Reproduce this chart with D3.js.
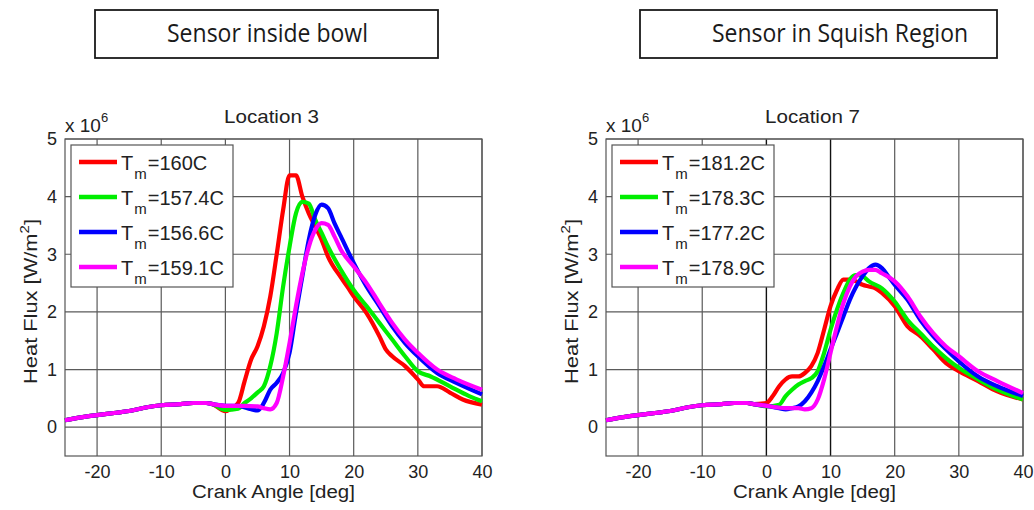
<!DOCTYPE html>
<html><head><meta charset="utf-8">
<script src="https://cdn.jsdelivr.net/npm/d3@7"></script>
<style>body{margin:0;background:#fff}svg{display:block}text{font-family:"Liberation Sans",Arial,sans-serif;fill:#222}</style>
</head><body><svg id="c" width="1034" height="510"></svg>
<script>
// ---------- data ----------
const headers = ["Sensor inside bowl", "Sensor in Squish Region"];
const panelTitles = ["Location 3", "Location 7"];
const xTicks = [-20, -10, 0, 10, 20, 30, 40];
const yTicks = [0, 1, 2, 3, 4, 5];
const seriesColors = ["#ff0000", "#00ee00", "#0000ff", "#ff00ff"];
// shared motoring-phase baseline (crank angle, heat flux x1e6)
const baseX = [-25, -22, -20, -17, -15, -12, -10, -7, -5, -3, -2];
const baseY = [0.12, 0.18, 0.21, 0.25, 0.28, 0.35, 0.38, 0.40, 0.42, 0.42, 0.40];
// Location 3
const loc3Labels = ["160C", "157.4C", "156.6C", "159.1C"];
const loc3RedX = [0, 1, 2, 3, 4, 5, 6, 7, 8, 9, 10, 11, 12, 13, 14, 15, 16, 18, 19, 20, 22, 24, 25, 26, 28, 30, 31, 33, 35, 37, 40];
const loc3RedY = [0.28, 0.33, 0.42, 0.8, 1.17, 1.4, 1.75, 2.27, 3.0, 3.77, 4.37, 4.37, 4.0, 3.71, 3.48, 3.25, 2.96, 2.6, 2.44, 2.27, 1.98, 1.58, 1.35, 1.23, 1.06, 0.83, 0.71, 0.71, 0.6, 0.48, 0.39];
const loc3GreenX = [0, 2, 3, 4, 5, 6, 7, 8, 9, 10, 11, 12, 13, 14, 15, 16, 18, 20, 22, 24, 26, 28, 30, 32, 35, 38, 40];
const loc3GreenY = [0.3, 0.32, 0.42, 0.5, 0.6, 0.71, 1.06, 1.63, 2.44, 3.13, 3.71, 3.91, 3.88, 3.6, 3.37, 3.13, 2.73, 2.38, 2.1, 1.81, 1.52, 1.23, 0.97, 0.88, 0.71, 0.54, 0.45];
const loc3BlueX = [0, 2, 4, 5, 6, 7, 8, 9, 10, 11, 12, 13, 14, 15, 16, 17, 18, 20, 22, 24, 26, 28, 30, 33, 36, 40];
const loc3BlueY = [0.37, 0.37, 0.31, 0.29, 0.42, 0.65, 0.77, 0.94, 1.29, 1.98, 2.62, 3.25, 3.68, 3.86, 3.8, 3.54, 3.31, 2.85, 2.44, 2.1, 1.75, 1.46, 1.23, 0.94, 0.77, 0.57];
const loc3MagX = [0, 3, 5, 6, 7, 8, 9, 10, 11, 12, 13, 14, 15, 16, 17, 18, 20, 22, 24, 26, 28, 30, 33, 36, 40];
const loc3MagY = [0.37, 0.37, 0.36, 0.33, 0.31, 0.42, 0.88, 1.46, 2.1, 2.67, 3.13, 3.42, 3.54, 3.51, 3.31, 3.08, 2.79, 2.5, 2.15, 1.81, 1.52, 1.29, 1.0, 0.83, 0.65];
// Location 7
const loc7Labels = ["181.2C", "178.3C", "177.2C", "178.9C"];
const loc7RedX = [0, 1, 2, 3, 4, 5, 6, 7, 8, 9, 10, 11, 12, 13, 14, 15, 16, 17, 18, 20, 22, 24, 26, 28, 30, 33, 36, 40];
const loc7RedY = [0.42, 0.54, 0.71, 0.83, 0.88, 0.88, 0.94, 1.06, 1.29, 1.69, 2.1, 2.38, 2.56, 2.56, 2.53, 2.47, 2.44, 2.41, 2.33, 2.1, 1.75, 1.58, 1.35, 1.11, 0.97, 0.8, 0.62, 0.48];
const loc7GreenX = [0, 2, 3, 4, 5, 6, 7, 8, 9, 10, 11, 12, 13, 14, 15, 16, 18, 20, 22, 24, 26, 28, 30, 33, 36, 40];
const loc7GreenY = [0.36, 0.39, 0.54, 0.65, 0.74, 0.8, 0.85, 0.97, 1.29, 1.69, 2.04, 2.33, 2.56, 2.64, 2.62, 2.53, 2.41, 2.18, 1.86, 1.63, 1.4, 1.2, 1.03, 0.83, 0.65, 0.48];
const loc7BlueX = [0, 2, 3, 4, 5, 6, 7, 8, 9, 10, 11, 12, 13, 14, 15, 16, 17, 18, 19, 20, 22, 24, 26, 28, 30, 33, 36, 40];
const loc7BlueY = [0.37, 0.33, 0.31, 0.33, 0.36, 0.45, 0.6, 0.8, 1.06, 1.35, 1.63, 1.92, 2.21, 2.44, 2.62, 2.76, 2.82, 2.76, 2.62, 2.47, 2.21, 1.86, 1.58, 1.35, 1.14, 0.88, 0.71, 0.54];
const loc7MagX = [0, 3, 5, 6, 7, 8, 9, 10, 11, 12, 13, 14, 15, 16, 17, 18, 20, 22, 24, 26, 28, 30, 33, 36, 40];
const loc7MagY = [0.37, 0.33, 0.33, 0.31, 0.33, 0.48, 0.83, 1.29, 1.75, 2.15, 2.44, 2.62, 2.7, 2.73, 2.73, 2.67, 2.53, 2.27, 1.92, 1.63, 1.4, 1.23, 0.97, 0.8, 0.59];

const panels = [
  {left: 65, darkX: [], labels: loc3Labels,
   series: [[loc3RedX, loc3RedY], [loc3GreenX, loc3GreenY], [loc3BlueX, loc3BlueY], [loc3MagX, loc3MagY]]},
  {left: 606, darkX: [0, 10], labels: loc7Labels,
   series: [[loc7RedX, loc7RedY], [loc7GreenX, loc7GreenY], [loc7BlueX, loc7BlueY], [loc7MagX, loc7MagY]]}
];

// ---------- drawing ----------
const svg = d3.select("#c");
const W = 417, plotTop = 139, plotBottom = 456;

// stretch factor so a text element spans the target width
function fitWidth(sel, target) {
  const bb = sel.node().getBBox();
  return target / bb.width;
}

// header boxes
const hdrBoxes = [[95, 438, 201], [640, 997, 256]];
const hdrCenters = [267.5, 840];
hdrBoxes.forEach((b, i) => {
  svg.append("rect").attr("x", b[0]).attr("y", 10).attr("width", b[1] - b[0]).attr("height", 48)
    .attr("fill", "#fff").attr("stroke", "#1a1a1a").attr("stroke-width", 1.8);
  svg.append("text").attr("x", hdrCenters[i]).attr("y", 42).attr("text-anchor", "middle")
    .attr("textLength", b[2]).attr("lengthAdjust", "spacingAndGlyphs")
    .style("font-family", "'Open Sans','Noto Sans',sans-serif").style("font-size", "25px").style("fill", "#1a1a1a")
    .text(headers[i]);
});

panels.forEach((p, pi) => {
  const x = d3.scaleLinear().domain([-25, 40]).range([p.left, p.left + W]);
  const y = d3.scaleLinear().domain([-0.5, 5]).range([plotBottom, plotTop]);
  const g = svg.append("g");
  const cx = p.left + W / 2;

  // grid
  g.selectAll(".gx").data(xTicks).join("line")
    .attr("x1", d => x(d)).attr("x2", d => x(d)).attr("y1", plotTop).attr("y2", plotBottom)
    .attr("stroke", d => p.darkX.includes(d) ? "#111" : "#5a5a5a").attr("stroke-width", d => p.darkX.includes(d) ? 1.4 : 1.2);
  g.selectAll(".gy").data(yTicks).join("line")
    .attr("x1", p.left).attr("x2", p.left + W).attr("y1", d => y(d)).attr("y2", d => y(d))
    .attr("stroke", "#5a5a5a").attr("stroke-width", 1.2);

  // frame
  g.append("rect").attr("x", p.left).attr("y", plotTop).attr("width", W).attr("height", plotBottom - plotTop)
    .attr("fill", "none").attr("stroke", "#555").attr("stroke-width", 1.2);

  // axes (labels only)
  const ax = g.append("g").attr("transform", `translate(0,${plotBottom})`)
    .call(d3.axisBottom(x).tickValues(xTicks).tickSize(0).tickPadding(9).tickFormat(d => String(d)));
  ax.select(".domain").remove();
  ax.selectAll("text").style("font-size", "18px").style("font-family", "'Liberation Sans',Arial,sans-serif").attr("fill", "#222");
  const ay = g.append("g").attr("transform", `translate(${p.left},0)`)
    .call(d3.axisLeft(y).tickValues(yTicks).tickSize(0).tickPadding(8).tickFormat(d => String(d)));
  ay.select(".domain").remove();
  ay.selectAll("text").style("font-size", "18px").style("font-family", "'Liberation Sans',Arial,sans-serif").attr("fill", "#222");

  // multiplier
  const mt = g.append("text").attr("x", p.left).attr("y", 132).style("font-size", "19px");
  mt.append("tspan").text("x 10");
  mt.append("tspan").attr("dy", -10).style("font-size", "13px").text("6");

  // title
  const tt = g.append("text").attr("text-anchor", "middle").style("font-size", "18px").text(panelTitles[pi]);
  tt.attr("transform", `translate(${cx - 2},123) scale(${fitWidth(tt, 95)},1)`);

  // axis labels
  const xl = g.append("text").attr("text-anchor", "middle").style("font-size", "19px").text("Crank Angle [deg]");
  xl.attr("transform", `translate(${cx},498) scale(${fitWidth(xl, 163)},1)`);
  const yl = g.append("text").attr("text-anchor", "middle").style("font-size", "19px");
  yl.append("tspan").text("Heat Flux [W/m");
  yl.append("tspan").attr("dy", -8).style("font-size", "13px").text("2");
  yl.append("tspan").attr("dy", 8).text("]");
  yl.attr("transform", `translate(${p.left - 28},${(plotTop + plotBottom) / 2 + 4}) rotate(-90) scale(${fitWidth(yl, 165)},1)`);

  // lines
  const line = d3.line().x(d => x(d[0])).y(d => y(d[1])).curve(d3.curveMonotoneX);
  p.series.forEach((s, si) => {
    const pts = baseX.map((v, i) => [v, baseY[i]]).concat(s[0].map((v, i) => [v, s[1][i]]));
    g.append("path").datum(pts).attr("d", line).attr("fill", "none")
      .attr("stroke", seriesColors[si]).attr("stroke-width", 4.2).attr("stroke-linejoin", "round");
  });

  // legend
  const lx = p.left + 6, ly = 145, lw = 162, lh = 142;
  g.append("rect").attr("x", lx).attr("y", ly).attr("width", lw).attr("height", lh)
    .attr("fill", "#fff").attr("stroke", "#555").attr("stroke-width", 1.2);
  p.labels.forEach((lab, i) => {
    const yy = ly + 17 + i * 35;
    g.append("line").attr("x1", lx + 8).attr("x2", lx + 46).attr("y1", yy).attr("y2", yy)
      .attr("stroke", seriesColors[i]).attr("stroke-width", 4.5);
    const t = g.append("text").attr("x", lx + 50).attr("y", yy + 8).style("font-size", "20px");
    t.append("tspan").text("T");
    t.append("tspan").attr("dy", 9).attr("dx", 1).style("font-size", "15px").text("m");
    t.append("tspan").attr("dy", -9).attr("dx", 1).text("=" + lab);
  });
});
</script></body></html>
